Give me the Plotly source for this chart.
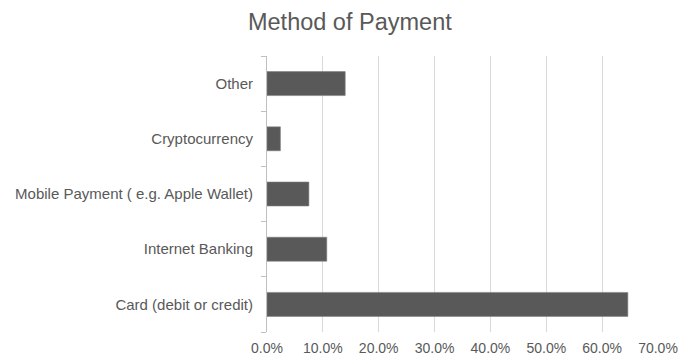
import plotly.graph_objects as go

# Share of respondents by payment method (bottom to top)
methods = [
    "Card (debit or credit)",
    "Internet Banking",
    "Mobile Payment ( e.g. Apple Wallet)",
    "Cryptocurrency",
    "Other",
]
shares = [0.646, 0.107, 0.075, 0.024, 0.140]
x_ticks = [0.0, 0.1, 0.2, 0.3, 0.4, 0.5, 0.6, 0.7]

text_color = "#595959"
font_family = "Liberation Sans, Arial, sans-serif"

fig = go.Figure(
    go.Bar(
        x=shares,
        y=methods,
        orientation="h",
        marker=dict(color="#595959", line=dict(color="#7f7f7f", width=0.6)),
        hoverinfo="x+y",
    )
)

fig.update_layout(
    width=678,
    height=358,
    margin=dict(l=267, r=20, t=56, b=26),
    paper_bgcolor="white",
    plot_bgcolor="white",
    bargap=0.566,
    showlegend=False,
    font=dict(family=font_family, size=15, color=text_color),
    title=dict(
        text="Method of Payment",
        x=0.516,
        xref="container",
        xanchor="center",
        y=0.94,
        yref="container",
        yanchor="middle",
        font=dict(family=font_family, size=23.5, color=text_color),
    ),
    xaxis=dict(
        range=[0, 0.7],
        tickvals=x_ticks,
        tickformat=".1%",
        showgrid=True,
        gridcolor="#d9d9d9",
        gridwidth=1,
        zeroline=False,
        showline=False,
        ticks="",
        ticklabelstandoff=6,
        ticklabeloverflow="allow",
        tickfont=dict(size=14, color=text_color),
        automargin=False,
        fixedrange=True,
    ),
    yaxis=dict(
        categoryorder="array",
        categoryarray=methods,
        showline=True,
        linecolor="#bfbfbf",
        linewidth=1,
        ticks="outside",
        tickson="boundaries",
        ticklen=5,
        tickcolor="#bfbfbf",
        showgrid=False,
        ticklabelstandoff=10,
        tickfont=dict(size=15, color=text_color),
        automargin=False,
        fixedrange=True,
    ),
)

fig.write_html("out.html")
